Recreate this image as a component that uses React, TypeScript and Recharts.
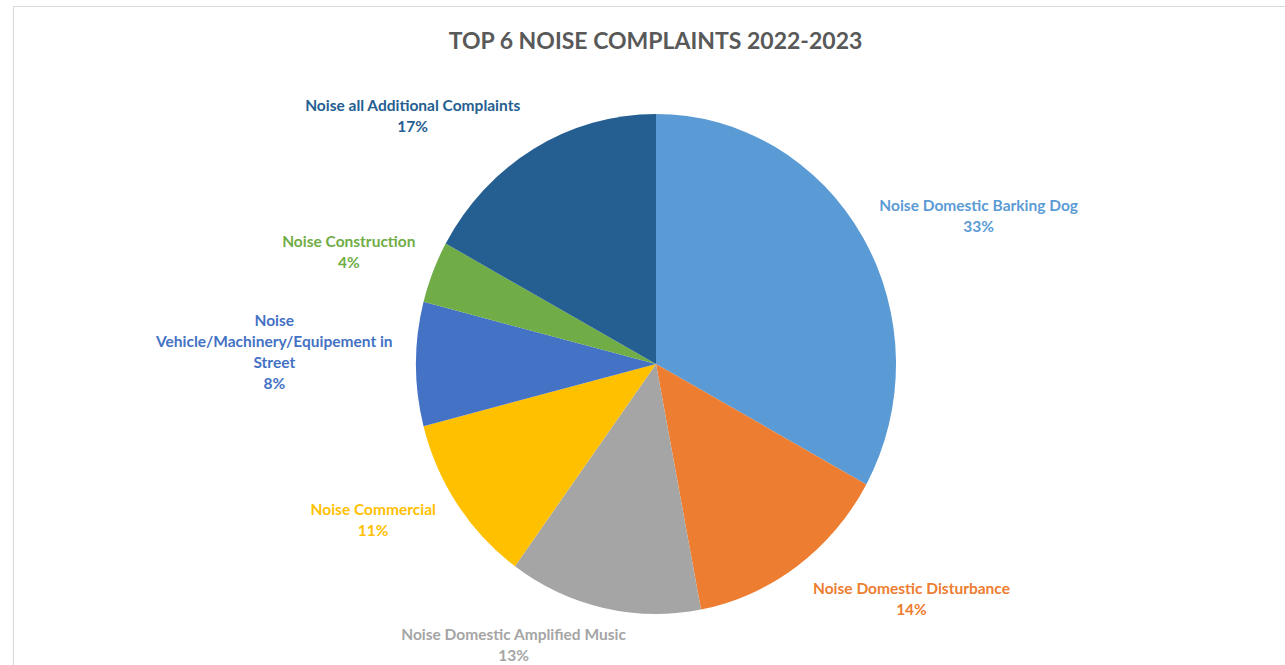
import React from 'react';
import { PieChart, Pie, Cell } from 'recharts';

// Values (percent of the top 6 + others)
const CATEGORIES = [
  'Noise Domestic Barking Dog',
  'Noise Domestic Disturbance',
  'Noise Domestic Amplified Music',
  'Noise Commercial',
  'Noise Vehicle/Machinery/Equipement in Street',
  'Noise Construction',
  'Noise all Additional Complaints',
];
const SHARES = [33, 14, 13, 11, 8, 4, 17];
const COLORS = ['#5B9BD5', '#ED7D31', '#A5A5A5', '#FFC000', '#4472C4', '#70AD47', '#255E91'];

const data = CATEGORIES.map((name, i) => ({ name, value: SHARES[i] }));

const RAD = Math.PI / 180;
const LINE_H = 21;
const CHAR_W = 7.4;
const MAX_CHARS = 32;
const CX = 656;
const CY = 364;

// small hand nudges so labels sit where Excel's best-fit put them
const LABEL_NUDGE: [number, number][] = [
  [10, -2],
  [42, 2],
  [-60, -1],
  [-13, -6],
  [0, -13],
  [3, -6],
  [-49, -1],
];

const wrap = (text: string) => {
  const words = text.split(' ');
  const lines: string[] = [];
  let cur = '';
  words.forEach((w) => {
    const next = cur ? cur + ' ' + w : w;
    if (next.length > MAX_CHARS && cur) {
      lines.push(cur);
      cur = w;
    } else {
      cur = next;
    }
  });
  if (cur) lines.push(cur);
  return lines;
};

const renderLabel = (props: any) => {
  const { cx, cy, midAngle, outerRadius, percent, index, name } = props;
  const lines = [...wrap(name), `${Math.round(percent * 100)}%`];
  const maxLen = Math.max(...lines.map((l) => l.length));
  const hw = (maxLen * CHAR_W) / 2;
  const hh = (lines.length * LINE_H) / 2;
  const dx = Math.cos(-midAngle * RAD);
  const dy = Math.sin(-midAngle * RAD);
  const r = outerRadius + 17;
  const [nx, ny] = LABEL_NUDGE[index] || [0, 0];
  const x = cx + dx * r + dx * hw + nx;
  const y = cy + dy * r + dy * hh + ny;
  const top = y - ((lines.length - 1) * LINE_H) / 2;
  return (
    <text
      key={`lbl-${index}`}
      x={x}
      y={top}
      fill={COLORS[index]}
      textAnchor="middle"
      fontFamily="Lato, 'Open Sans', sans-serif"
      fontWeight="bold"
      fontSize={15.5}
    >
      {lines.map((l, i) => (
        <tspan key={i} x={x} y={top + i * LINE_H} dominantBaseline="central">
          {l}
        </tspan>
      ))}
    </text>
  );
};

export default function App() {
  return (
    <div style={{ position: 'fixed', left: 0, top: 0, width: 1285, height: 665, background: '#fff', overflow: 'hidden' }}>
      {/* the source image is slightly squeezed horizontally, so squeeze the sectors only */}
      <style>{`
        .recharts-pie-sector path {
          transform-box: view-box;
          transform-origin: ${CX}px ${CY}px;
          transform: scaleX(0.96);
        }
      `}</style>
      <div
        style={{
          position: 'absolute',
          left: 13,
          top: 6,
          width: 1400,
          height: 800,
          borderTop: '1.5px solid #d9d9d9',
          borderLeft: '1.5px solid #d9d9d9',
        }}
      />
      <div
        style={{
          position: 'absolute',
          left: 0,
          width: 1311,
          top: 25,
          textAlign: 'center',
          fontFamily: "Lato, 'Open Sans', sans-serif",
          fontWeight: 'bold',
          fontSize: 23,
          color: '#595959',
          lineHeight: '30px',
        }}
      >
        TOP 6 NOISE COMPLAINTS 2022-2023
      </div>
      <div style={{ position: 'absolute', left: 0, top: 0 }}>
        <PieChart width={1285} height={665} margin={{ top: 0, right: 0, bottom: 0, left: 0 }}>
          <Pie
            data={data}
            dataKey="value"
            nameKey="name"
            cx={CX}
            cy={CY}
            outerRadius={250}
            startAngle={90}
            endAngle={-270}
            stroke="none"
            labelLine={false}
            label={renderLabel}
            isAnimationActive={false}
          >
            {data.map((d, i) => (
              <Cell key={d.name} fill={COLORS[i]} />
            ))}
          </Pie>
        </PieChart>
      </div>
    </div>
  );
}
